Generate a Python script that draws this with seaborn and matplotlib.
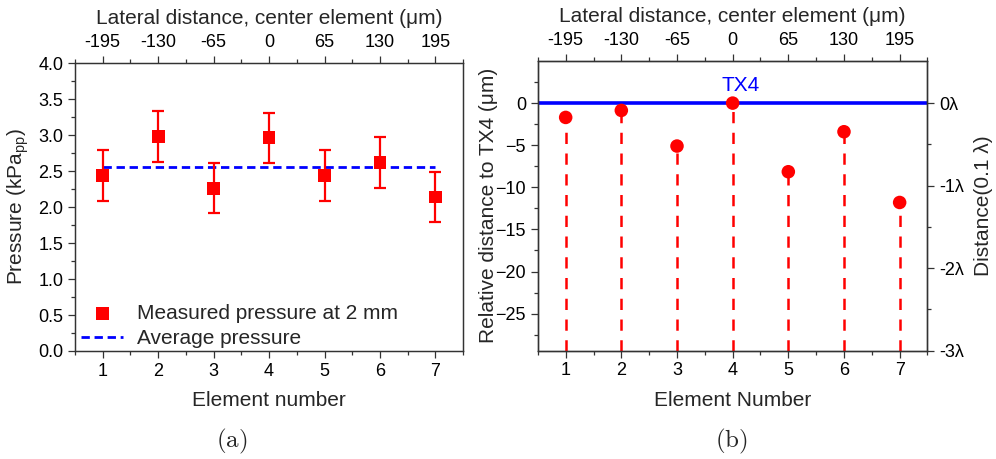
import numpy as np
import pandas as pd
import matplotlib
matplotlib.use("Agg")
import matplotlib.pyplot as plt
from matplotlib.ticker import MultipleLocator, FixedLocator
import seaborn as sns

# ---- data -------------------------------------------------------------
elements = [1, 2, 3, 4, 5, 6, 7]
lateral_um = ["-195", "-130", "-65", "0", "65", "130", "195"]

pressure = [2.44, 2.98, 2.26, 2.96, 2.44, 2.62, 2.14]
pressure_err = [0.35, 0.35, 0.35, 0.35, 0.35, 0.35, 0.35]
avg_pressure = 2.55

rel_distance = [-1.7, -0.87, -5.1, 0.0, -8.15, -3.4, -11.8]
wavelength_um = 9.8
lambda_labels = ["0λ", "-1λ", "-2λ", "-3λ"]

df_a = pd.DataFrame({"element": elements, "pressure": pressure})
df_b = pd.DataFrame({"element": elements, "dist": rel_distance})

# ---- style ------------------------------------------------------------
sns.set_theme(style="ticks")
plt.rcParams["font.family"] = ["Liberation Sans", "DejaVu Sans"]
plt.rcParams["mathtext.fontset"] = "custom"
plt.rcParams["mathtext.rm"] = "Liberation Sans"
plt.rcParams["mathtext.it"] = "Liberation Sans:italic"
plt.rcParams["axes.edgecolor"] = "#333333"
plt.rcParams["axes.linewidth"] = 0.9
plt.rcParams["xtick.color"] = "#333333"
plt.rcParams["ytick.color"] = "#333333"
plt.rcParams["xtick.labelcolor"] = "black"
plt.rcParams["ytick.labelcolor"] = "black"

TICK_FS = 13
LABEL_FS = 15

fig = plt.figure(figsize=(9.96, 4.59), dpi=100)
ax1 = fig.add_axes([0.0753, 0.2353, 0.3897, 0.6274])
ax2 = fig.add_axes([0.5400, 0.2360, 0.3912, 0.6311])


def style_ticks(ax):
    ax.tick_params(axis="both", which="major", direction="out", length=5,
                   width=0.9, labelsize=TICK_FS)
    ax.tick_params(axis="both", which="minor", direction="out", length=3,
                   width=0.9)
    ax.tick_params(axis="y", which="both", right=False)
    ax.tick_params(axis="x", which="both", top=False)


def add_top_axis(ax):
    top = ax.twiny()
    top.set_xlim(ax.get_xlim())
    top.xaxis.set_major_locator(FixedLocator(elements))
    top.set_xticklabels(lateral_um)
    top.xaxis.set_minor_locator(MultipleLocator(0.5))
    top.tick_params(axis="x", which="major", direction="out", length=5,
                    width=0.9, labelsize=TICK_FS, pad=4)
    top.tick_params(axis="x", which="minor", direction="out", length=3,
                    width=0.9)
    top.set_xlabel("Lateral distance, center element (μm)",
                   fontsize=LABEL_FS, labelpad=7)
    return top


# ---- (a) pressure per element ----------------------------------------
ax1.errorbar(elements, pressure, yerr=pressure_err, fmt="none",
             ecolor="red", elinewidth=1.6, capsize=4, capthick=1.6, zorder=3)
sns.lineplot(x=[elements[0], elements[-1]], y=[avg_pressure, avg_pressure],
             ax=ax1, color="blue", linewidth=2.0, dashes=False,
             label="Average pressure", zorder=2)
ax1.lines[-1].set_dashes([3.0, 1.7])
sns.scatterplot(data=df_a, x="element", y="pressure", ax=ax1, marker="s",
                color="red", s=85, edgecolor="none",
                label="Measured pressure at 2 mm", zorder=4)

ax1.set_xlim(0.5, 7.5)
ax1.set_ylim(0, 4.0)
ax1.xaxis.set_major_locator(FixedLocator(elements))
ax1.xaxis.set_minor_locator(MultipleLocator(0.5))
ax1.yaxis.set_major_locator(MultipleLocator(0.5))
ax1.yaxis.set_minor_locator(MultipleLocator(0.25))
ax1.yaxis.set_major_formatter(matplotlib.ticker.FormatStrFormatter("%.1f"))
style_ticks(ax1)
ax1.set_xlabel("Element number", fontsize=LABEL_FS, labelpad=8)
ax1.set_ylabel("Pressure (kPa$_{\\mathrm{pp}}$)", fontsize=LABEL_FS,
               labelpad=5)

handles, labels = ax1.get_legend_handles_labels()
order = [labels.index("Measured pressure at 2 mm"),
         labels.index("Average pressure")]
ax1.legend([handles[i] for i in order], [labels[i] for i in order],
           loc="lower left", frameon=False, fontsize=15,
           handlelength=2.0, handletextpad=0.65, labelspacing=0.3,
           borderaxespad=0.0, bbox_to_anchor=(-0.005, -0.02))
add_top_axis(ax1)

# ---- (b) relative distance -------------------------------------------
ylo, yhi = -29.4, 5.0
ax2.axhline(0, color="blue", linewidth=2.6, zorder=2)
ax2.vlines(df_b["element"], ylo, df_b["dist"], colors="red",
           linewidth=1.8, linestyles=(0, (4.5, 3.8)), zorder=3)
sns.scatterplot(data=df_b, x="element", y="dist", ax=ax2, marker="o",
                color="red", s=95, edgecolor="none", zorder=4, legend=False)
ax2.text(4.15, 1.0, "TX4", color="blue", fontsize=15, ha="center",
         va="bottom")

ax2.set_xlim(0.5, 7.5)
ax2.set_ylim(ylo, yhi)
ax2.xaxis.set_major_locator(FixedLocator(elements))
ax2.xaxis.set_minor_locator(MultipleLocator(0.5))
ax2.yaxis.set_major_locator(FixedLocator([0, -5, -10, -15, -20, -25]))
ax2.yaxis.set_minor_locator(FixedLocator([2.5, -2.5, -7.5, -12.5, -17.5,
                                          -22.5, -27.5]))
style_ticks(ax2)
ax2.set_xlabel("Element Number", fontsize=LABEL_FS, labelpad=8)
ax2.set_ylabel("Relative distance to TX4 (μm)", fontsize=LABEL_FS,
               labelpad=-2)

right = ax2.twinx()
right.set_ylim(ylo, yhi)
right.yaxis.set_major_locator(FixedLocator(
    [-k * wavelength_um for k in range(len(lambda_labels))]))
right.set_yticklabels(lambda_labels)
right.yaxis.set_minor_locator(FixedLocator(
    [-(k + 0.5) * wavelength_um for k in range(len(lambda_labels) - 1)]))
right.tick_params(axis="y", which="major", direction="out", length=5,
                  width=0.9, labelsize=TICK_FS)
right.tick_params(axis="y", which="minor", direction="out", length=3,
                  width=0.9)
right.set_ylabel("Distance(0.1 λ)", fontsize=LABEL_FS, labelpad=7)
add_top_axis(ax2)

# ---- panel captions ---------------------------------------------------
fig.text(0.233, 0.025, r"$\mathrm{(a)}$", fontsize=18, ha="center",
         math_fontfamily="cm")
fig.text(0.734, 0.025, r"$\mathrm{(b)}$", fontsize=18, ha="center",
         math_fontfamily="cm")

fig.savefig("out.png", dpi=100)
